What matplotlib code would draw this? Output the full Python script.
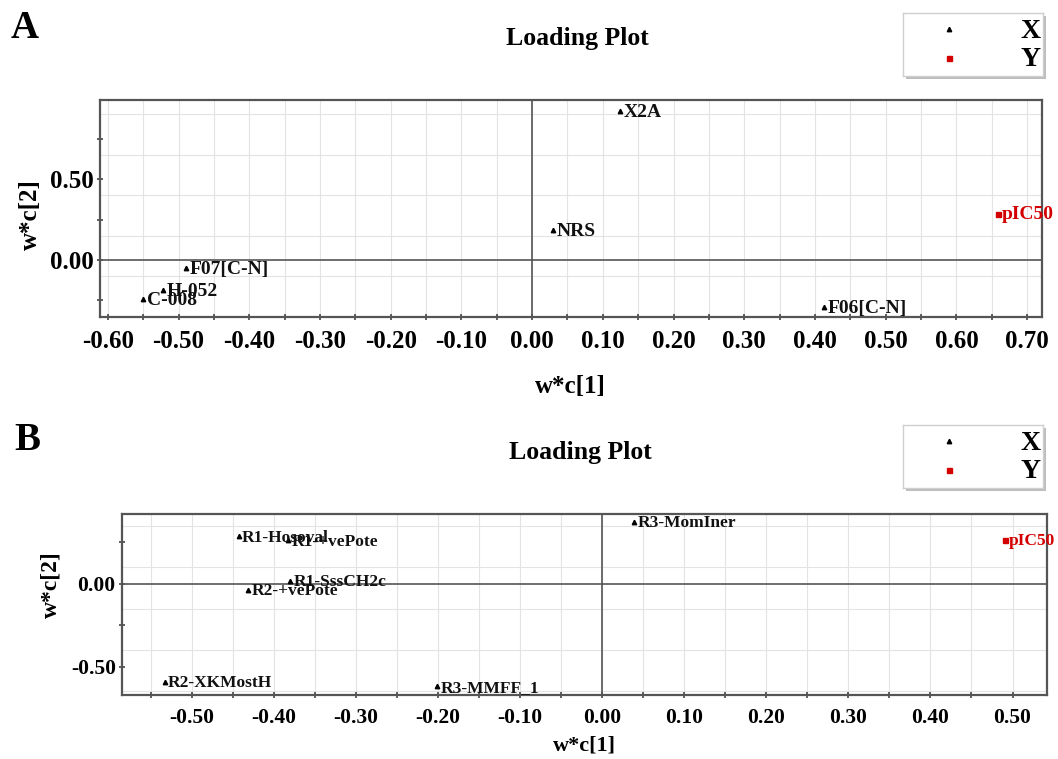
import numpy as np
import matplotlib
matplotlib.use("Agg")
import matplotlib.pyplot as plt
from matplotlib.ticker import MultipleLocator, FormatStrFormatter

plt.rcParams['font.family'] = ['Liberation Serif', 'DejaVu Serif']
plt.rcParams['font.weight'] = 'bold'

# Panel A loadings
a_x_names = ["X2A", "NRS", "F06[C-N]", "F07[C-N]", "H-052", "C-008"]
a_x_w1 = [0.124, 0.030, 0.413, -0.489, -0.522, -0.550]
a_x_w2 = [0.922, 0.185, -0.290, -0.050, -0.185, -0.240]
a_y_names = ["pIC50"]
a_y_w1 = [0.659]
a_y_w2 = [0.287]

# Panel B loadings
b_x_names = ["R1-Hosoval", "R1-+vePote", "R1-SssCH2c", "R2-+vePote",
             "R2-XKMostH", "R3-MMFF_1", "R3-MomIner"]
b_x_w1 = [-0.443, -0.383, -0.380, -0.431, -0.533, -0.201, 0.039]
b_x_w2 = [0.287, 0.262, 0.018, -0.035, -0.593, -0.620, 0.374]
b_y_names = ["pIC50"]
b_y_w1 = [0.491]
b_y_w2 = [0.265]

W, H = 1058, 759
fig = plt.figure(figsize=(W / 100, H / 100), dpi=100)
fig.patch.set_facecolor("white")


def fig_rect(l, t, r, b):
    return [l / W, 1 - b / H, (r - l) / W, (b - t) / H]


def loading_panel(rect, xlim, ylim, xmaj, ymaj, ymin, hgrid,
                  xn, x1, x2, yn, y1, y2, tick_fs, pt_fs):
    ax = fig.add_axes(rect)
    ax.set_xlim(*xlim)
    ax.set_ylim(*ylim)
    ax.xaxis.set_major_locator(MultipleLocator(xmaj))
    ax.xaxis.set_minor_locator(MultipleLocator(xmaj / 2))
    ax.yaxis.set_major_locator(MultipleLocator(ymaj))
    ax.yaxis.set_minor_locator(MultipleLocator(ymin))
    ax.xaxis.set_major_formatter(FormatStrFormatter("%.2f"))
    ax.yaxis.set_major_formatter(FormatStrFormatter("%.2f"))
    ax.tick_params(which="both", direction="inout", length=5, width=1.2,
                   color="#444444", top=False, right=False)
    ax.tick_params(axis="x", which="major", labelsize=tick_fs, pad=7)
    ax.tick_params(axis="y", which="major", labelsize=tick_fs, pad=2)
    for lbl in ax.get_xticklabels() + ax.get_yticklabels():
        lbl.set_fontweight("bold")
    # grid
    ax.grid(True, which="both", axis="x", color="#e3e3e3", lw=0.8)
    for g in hgrid:
        ax.axhline(g, color="#e3e3e3", lw=0.8, zorder=0)
    ax.axhline(0, color="#555555", lw=1.2, zorder=1)
    ax.axvline(0, color="#555555", lw=1.2, zorder=1)
    for s in ax.spines.values():
        s.set_color("#555555")
        s.set_linewidth(1.6)
    ax.set_axisbelow(True)

    ax.plot(x1, x2, ls="none", marker="^", ms=3.2, color="black", zorder=3,
            clip_on=False)
    ax.plot(y1, y2, ls="none", marker="s", ms=3.6, color="#d40000", zorder=3,
            clip_on=False)
    for n, a, b in zip(xn, x1, x2):
        ax.annotate(n, (a, b), xytext=(2.5, -1), textcoords="offset points",
                    ha="left", va="center", fontsize=pt_fs, fontweight="bold",
                    color="#111111", annotation_clip=False)
    for n, a, b in zip(yn, y1, y2):
        ax.annotate(n, (a, b), xytext=(2.5, -1), textcoords="offset points",
                    ha="left", va="center", fontsize=pt_fs, fontweight="bold",
                    color="#d40000", annotation_clip=False)
    return ax


def legend_box(rect, fs):
    lax = fig.add_axes(rect)
    lax.set_xlim(0, 1)
    lax.set_ylim(0, 1)
    lax.set_xticks([])
    lax.set_yticks([])
    for s in lax.spines.values():
        s.set_color("#cfcfcf")
        s.set_linewidth(1.0)
    lax.plot([0.33], [0.74], marker="^", ms=3.2, color="black")
    lax.plot([0.33], [0.28], marker="s", ms=3.6, color="#d40000")
    lax.text(0.98, 0.70, "X", ha="right", va="center", fontsize=fs,
             fontweight="bold")
    lax.text(0.98, 0.26, "Y", ha="right", va="center", fontsize=fs,
             fontweight="bold")
    # drop shadow
    l, b, w, h = rect
    sh = fig.add_axes([l + 3 / W, b - 3 / H, w, h], zorder=lax.get_zorder() - 1)
    sh.set_facecolor("#bdbdbd")
    sh.set_xticks([])
    sh.set_yticks([])
    for s in sh.spines.values():
        s.set_visible(False)


# ---- Panel A ----
axA = loading_panel(fig_rect(100, 100, 1042, 317), (-0.611, 0.721),
                    (-0.352, 0.988), 0.1, 0.5, 0.25,
                    [-0.1, 0.15, 0.4, 0.65, 0.9],
                    a_x_names, a_x_w1, a_x_w2, a_y_names, a_y_w1, a_y_w2,
                    tick_fs=18, pt_fs=14)
axA.set_xlabel("w*c[1]", fontsize=18, fontweight="bold")
axA.set_ylabel("w*c[2]", fontsize=18, fontweight="bold")
axA.xaxis.set_label_coords(0.499, -0.267)
axA.yaxis.set_label_coords(-0.062, 0.47)
fig.text(577 / W, 1 - 38 / H, "Loading Plot", ha="center", va="center",
         fontsize=18.5, fontweight="bold")
fig.text(11 / W, 1 - 28 / H, "A", ha="left", va="center", fontsize=28,
         fontweight="bold")
legend_box(fig_rect(903, 13, 1043, 76), 20)

# ---- Panel B ----
axB = loading_panel(fig_rect(122, 514, 1047, 695), (-0.585, 0.542),
                    (-0.672, 0.422), 0.1, 0.5, 0.25,
                    [-0.65, -0.4, -0.15, 0.1, 0.35],
                    b_x_names, b_x_w1, b_x_w2, b_y_names, b_y_w1, b_y_w2,
                    tick_fs=15.5, pt_fs=12.5)
axB.set_xlabel("w*c[1]", fontsize=16, fontweight="bold")
axB.set_ylabel("w*c[2]", fontsize=17, fontweight="bold")
axB.xaxis.set_label_coords(0.5, -0.221)
axB.yaxis.set_label_coords(-0.066, 0.61)
fig.text(580 / W, 1 - 452 / H, "Loading Plot", ha="center", va="center",
         fontsize=18.5, fontweight="bold")
fig.text(14 / W, 1 - 441 / H, "B", ha="left", va="center", fontsize=28,
         fontweight="bold")
legend_box(fig_rect(903, 425, 1043, 488), 20)

fig.savefig("out.png", dpi=100, facecolor="white")
